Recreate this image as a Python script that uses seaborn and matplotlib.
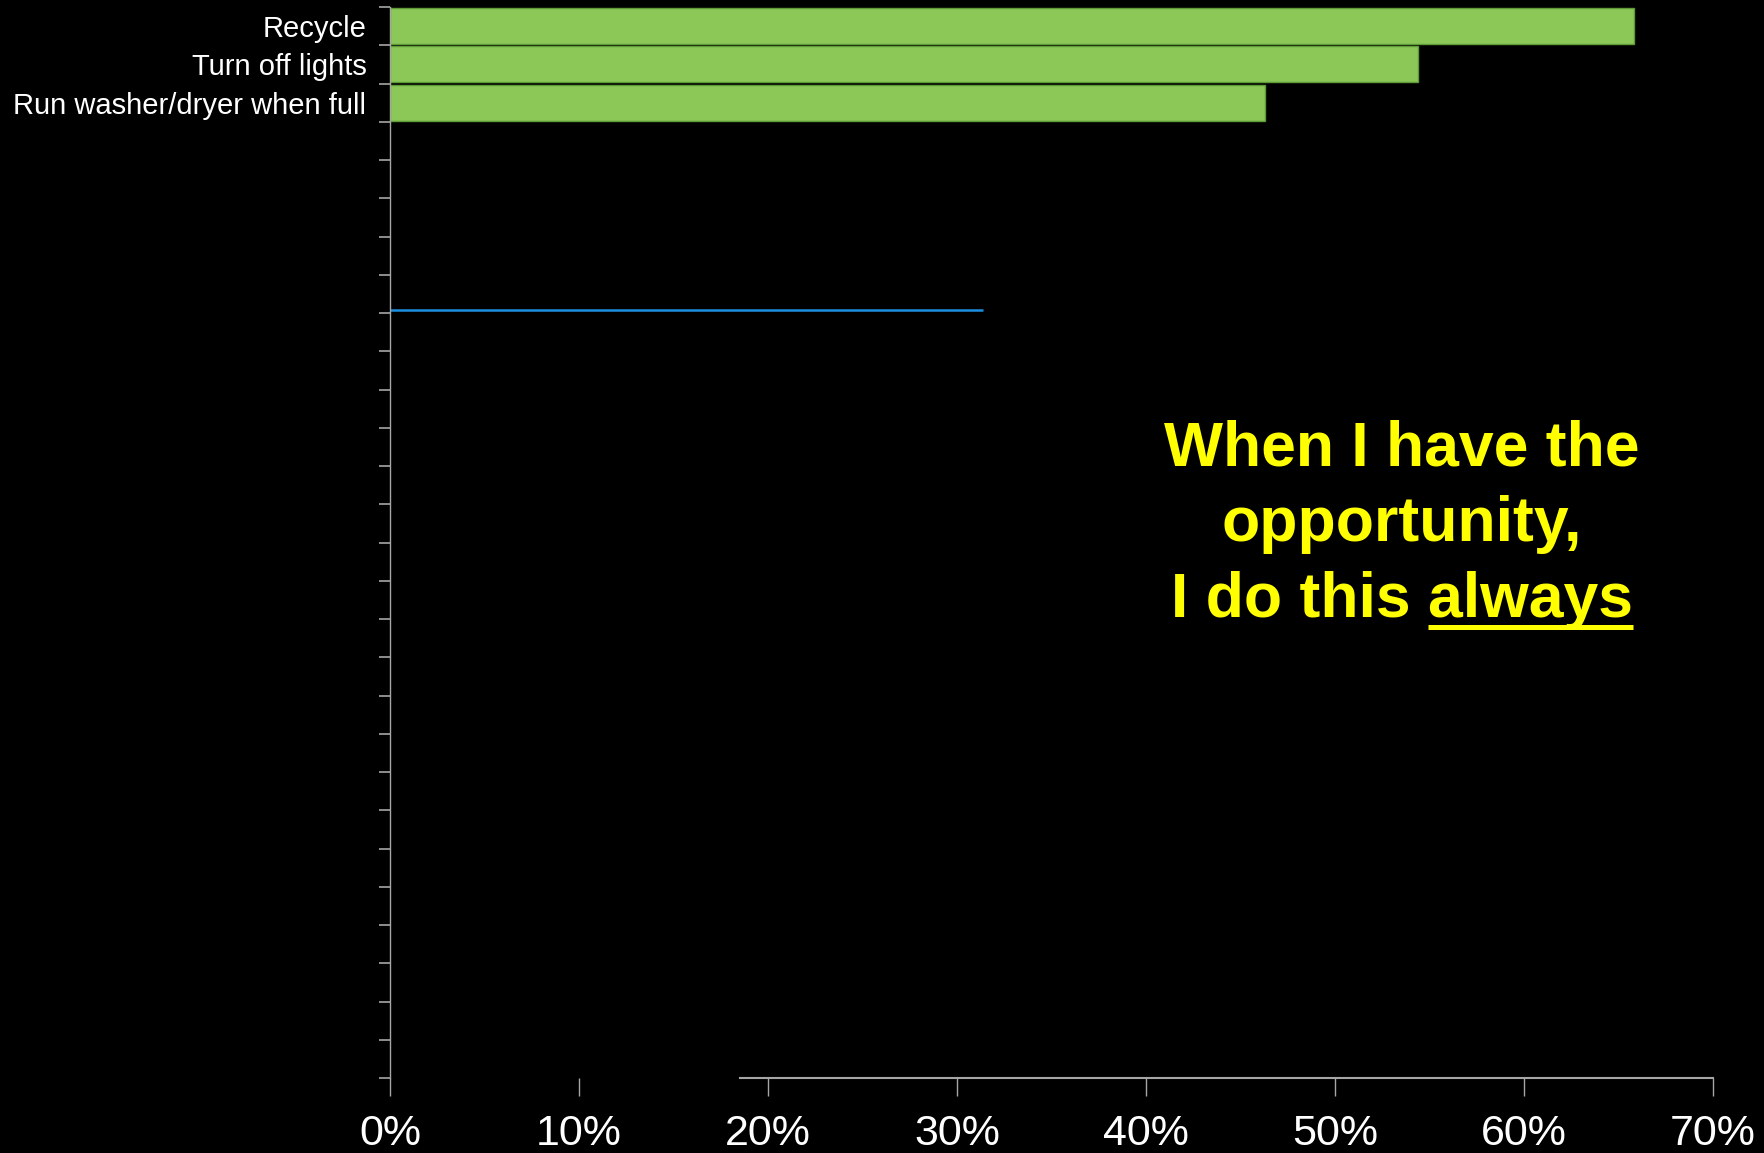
import numpy as np
import pandas as pd
import seaborn as sns
import matplotlib
matplotlib.use('Agg')
import matplotlib.pyplot as plt
from matplotlib.lines import Line2D

# data
categories = ['Recycle', 'Turn off lights', 'Run washer/dryer when full']
always_pct = [65.8, 54.4, 46.3]
n_slots = 28  # the category axis has room for 28 rows, only 3 are filled
xticks = [0, 10, 20, 30, 40, 50, 60, 70]
xtick_labels = ['0%', '10%', '20%', '30%', '40%', '50%', '60%', '70%']
line_x = [0, 31.4]
line_y = [7.43, 7.43]
note_lines = ['When I have the', 'opportunity,', 'I do this always']
note_word = 'always'

W, H = 1765, 1153
sns.set_theme(style='ticks')
plt.rcParams['font.family'] = ['Liberation Sans', 'DejaVu Sans']

fig = plt.figure(figsize=(W / 100, H / 100), dpi=100, facecolor='black')
ax = fig.add_axes([390 / W, 1 - 1078 / H, (1713 - 390) / W, (1078 - 7) / H])
ax.set_facecolor('black')

df = pd.DataFrame({'task': categories, 'pct': always_pct})
sns.barplot(data=df, x='pct', y='task', orient='h', color='#8BC858', saturation=1,
            width=0.94, edgecolor='#5E9A35', linewidth=1, ax=ax)

ax.plot(line_x, line_y, color='#1B8FE0', lw=1.8, solid_capstyle='butt', clip_on=False)

ax.set_xlim(0, 70)
ax.set_ylim(n_slots - 0.5, -0.5)
ax.set_xlabel('')
ax.set_ylabel('')

bounds = np.arange(-0.5, n_slots, 1.0)
ax.set_yticks(bounds, labels=[''] * len(bounds))
ax.set_yticks(range(len(categories)), labels=categories, minor=True)
ax.tick_params(axis='y', which='major', length=8, width=1.2, color='#A6A6A6', direction='out')
ax.tick_params(axis='y', which='minor', length=0, pad=17, labelsize=21, labelcolor='white')

ax.set_xticks(xticks, labels=xtick_labels)
ax.tick_params(axis='x', length=13, width=1, color='#A6A6A6', pad=13, labelsize=31, labelcolor='white')

for s in ['top', 'right']:
    ax.spines[s].set_visible(False)
ax.spines['left'].set_color('#A6A6A6')
ax.spines['left'].set_linewidth(1)
ax.spines['bottom'].set_color('#A6A6A6')
ax.spines['bottom'].set_linewidth(1.5)
ax.spines['bottom'].set_bounds(18.5, 70)

# yellow note
props = dict(ha='center', va='baseline', fontsize=45, fontweight='bold', color='#FFFF00')
baselines = [465, 541, 617]
texts = []
for line, yb in zip(note_lines, baselines):
    texts.append(fig.text(1402 / W, 1 - yb / H, line, **props))

fig.canvas.draw()
r = fig.canvas.get_renderer()
bb = texts[-1].get_window_extent(r)
tmp = fig.text(0, 0, note_word, **props)
w = tmp.get_window_extent(r).width
tmp.remove()
uy = 1 - 627.5 / H
fig.add_artist(Line2D([(bb.x1 - w) / W, bb.x1 / W], [uy, uy], transform=fig.transFigure,
                      color='#FFFF00', lw=3.6, solid_capstyle='butt'))

fig.savefig('out.png', dpi=100, facecolor='black')
